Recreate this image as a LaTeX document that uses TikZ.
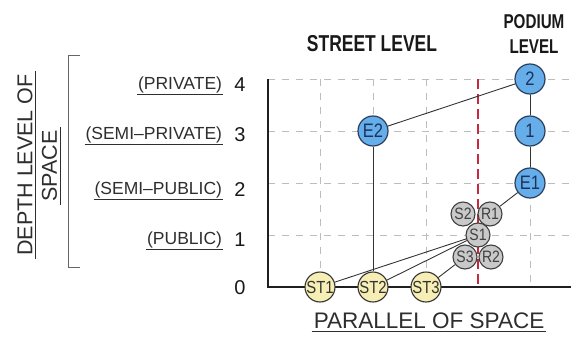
\documentclass[tikz,border=0pt]{standalone}
\usepackage{fontspec}
\setmainfont{Liberation Sans}
\newfontfamily\nodefont[FakeStretch=0.85]{Liberation Sans}
\newfontfamily\headfont[FakeStretch=0.76]{Liberation Sans}
\definecolor{bluefill}{HTML}{66AEEA}
\definecolor{blueedge}{HTML}{2B3E5C}
\definecolor{bluetext}{HTML}{1C335E}
\definecolor{greyfill}{HTML}{C9C9C9}
\definecolor{yellowfill}{HTML}{F6EEB4}
\definecolor{redline}{HTML}{C8283C}
\definecolor{gridgrey}{HTML}{BDBDBD}
\definecolor{labgrey}{HTML}{2E2E2E}
\begin{document}
\begin{tikzpicture}[x=1pt,y=-1pt,
  gridline/.style={draw=gridgrey, line width=0.9pt, dash pattern=on 7pt off 7pt},
  axisline/.style={draw=black!88, line width=1.8pt},
  reddash/.style={draw=redline, line width=1.6pt, dash pattern=on 10pt off 5pt},
  conn/.style={draw=black!80, line width=0.9pt},
  bnode/.style={circle, draw=blueedge, line width=1.2pt, fill=bluefill, minimum size=30pt, inner sep=0pt,
    font=\nodefont\fontsize{19.5}{19.5}\selectfont, text=bluetext},
  gnode/.style={circle, draw=black!75, line width=1.1pt, fill=greyfill, minimum size=24pt, inner sep=0pt,
    font=\nodefont\fontsize{16.5}{16.5}\selectfont, text=black!75},
  ynode/.style={circle, draw=black!80, line width=1.1pt, fill=yellowfill, minimum size=30pt, inner sep=0pt,
    font=\nodefont\fontsize{17.5}{17.5}\selectfont, text=black!80},
  lab/.style={font=\fontsize{17.5}{18}\selectfont, text=labgrey, inner sep=0.8pt, anchor=east},
  num/.style={font=\fontsize{20}{20}\selectfont, text=black!90, inner sep=0pt},
  ul/.style={draw=labgrey, line width=0.8pt},
  head/.style={font=\headfont\bfseries\fontsize{23}{23}\selectfont, text=black!90, inner sep=0pt}
]
\useasboundingbox (0,0) rectangle (571,343);

% grid
\foreach \yy in {79,131,183,235} \draw[gridline] (268,\yy) -- (571,\yy);
\foreach \xx in {320,373,426,530} \draw[gridline] (\xx,79) -- (\xx,287);
\draw[reddash] (478,79) -- (478,287);

% axes
\draw[axisline] (268,79) -- (268,287) -- (571,287);

% bracket
\draw[draw=black!60, line width=0.9pt] (80,55) -- (68,55) -- (68,267) -- (80,267);

% headings
\node[head] (street) at (372,44) {STREET LEVEL};
\node[head, align=center, font=\headfont\bfseries\fontsize{20}{25}\selectfont] (podium) at (534,34) {PODIUM\\LEVEL};

% axis title
\node[rotate=90, inner sep=3pt, font=\fontsize{21.5}{22}\selectfont, text=labgrey] (depth) at (25,165) {DEPTH LEVEL OF};
\draw[ul] (depth.south west) -- (depth.south east);
\node[rotate=90, inner sep=3pt, font=\fontsize{21.5}{22}\selectfont, text=labgrey] (space) at (49.5,166) {SPACE};
\draw[ul] (space.south west) -- (space.south east);

% level labels
\node[lab] (lprivate) at (223,85) {(PRIVATE)};
\node[lab] (lsemipriv) at (223,135) {(SEMI--PRIVATE)};
\node[lab] (lsemipub) at (223,190) {(SEMI--PUBLIC)};
\node[lab] (lpublic) at (223,240) {(PUBLIC)};
\foreach \n in {lprivate,lsemipriv,lsemipub,lpublic} \draw[ul] (\n.south west) -- (\n.south east);

\node[num] (n4) at (240,85) {4};
\node[num] (n3) at (240,135) {3};
\node[num] (n2) at (240,190) {2};
\node[num] (n1) at (240,240) {1};
\node[num] (n0) at (240,288) {0};

% x-axis title
\node[inner sep=2pt, font=\fontsize{22.5}{23}\selectfont, text=labgrey] (parallel) at (429,321) {PARALLEL OF SPACE};
\draw[ul] (parallel.south west) -- (parallel.south east);

% nodes
\node[bnode] (E2) at (373,131) {E2};
\node[bnode] (P2) at (530,79) {2};
\node[bnode] (P1) at (530,131) {1};
\node[bnode] (E1) at (530,183) {E1};

\node[gnode] (S2) at (463,214) {S2};
\node[gnode] (R1) at (490,214) {R1};
\node[gnode] (S3) at (465,257) {S3};
\node[gnode] (R2) at (491,257) {R2};
\node[gnode] (S1) at (478,235) {S1};

\node[ynode] (ST1) at (320,287) {ST1};
\node[ynode] (ST2) at (373,287) {ST2};
\node[ynode] (ST3) at (426,287) {ST3};

% connectors
\draw[conn] (E2) -- (P2);
\draw[conn] (E2) -- (ST2);
\draw[conn] (P2) -- (P1);
\draw[conn] (P1) -- (E1);
\draw[conn] (E1) -- (R1);
\draw[conn] (ST1) -- (S1);
\draw[conn] (ST2) -- (S1);
\draw[conn] (ST3) -- (S3);
\end{tikzpicture}
\end{document}
